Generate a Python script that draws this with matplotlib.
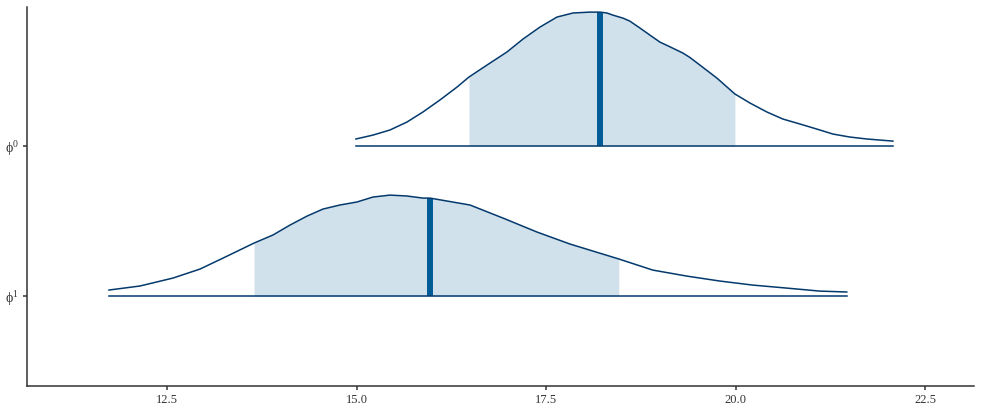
import numpy as np
import matplotlib
matplotlib.use("Agg")
import matplotlib.pyplot as plt

plt.rcParams['font.family'] = ['Liberation Serif', 'DejaVu Serif']
plt.rcParams['mathtext.fontset'] = 'custom'
plt.rcParams['mathtext.rm'] = 'Liberation Serif'
plt.rcParams['mathtext.it'] = 'Liberation Serif:italic'

# ---- data ----
params = ["phi0", "phi1"]
param_labels = [r"$\mathrm{\phi}^0$", r"$\mathrm{\phi}^1$"]
param_pos = [2, 1]

phi0_x = [14.988, 15.212, 15.437, 15.661, 15.872, 16.096, 16.321, 16.479, 16.756,
          16.980, 17.191, 17.415, 17.640, 17.851, 18.075, 18.207, 18.299, 18.377,
          18.510, 18.601, 18.734, 18.865, 18.998, 19.129, 19.301, 19.392, 19.525,
          19.750, 19.987, 20.185, 20.409, 20.620, 20.845, 21.069, 21.280, 21.504,
          21.728, 22.071]
phi0_d = [0.047, 0.073, 0.107, 0.160, 0.227, 0.307, 0.393, 0.460, 0.553,
          0.627, 0.713, 0.793, 0.860, 0.887, 0.893, 0.893, 0.887, 0.873,
          0.853, 0.833, 0.787, 0.740, 0.693, 0.662, 0.620, 0.591, 0.540,
          0.453, 0.347, 0.287, 0.227, 0.180, 0.147, 0.113, 0.080, 0.060,
          0.047, 0.033]
phi0_interval = [16.479, 19.987]
phi0_median = 18.207

phi1_x = [11.731, 12.140, 12.576, 12.932, 13.235, 13.644, 13.894, 14.118, 14.343,
          14.554, 14.778, 15.002, 15.213, 15.437, 15.661, 15.872, 15.965, 16.492,
          16.927, 17.375, 17.810, 18.456, 18.904, 19.353, 19.788, 20.223, 20.671,
          21.106, 21.462]
phi1_d = [0.040, 0.067, 0.120, 0.180, 0.253, 0.353, 0.407, 0.473, 0.533,
          0.580, 0.607, 0.627, 0.660, 0.673, 0.667, 0.653, 0.653, 0.607,
          0.520, 0.427, 0.347, 0.247, 0.173, 0.133, 0.100, 0.073, 0.053,
          0.033, 0.027]
phi1_interval = [13.644, 18.456]
phi1_median = 15.965

x_ticks = [12.5, 15.0, 17.5, 20.0, 22.5]

# ---- styling ----
fill_col = "#d1e1ec"
line_col = "#03396c"
med_col = "#005b96"

fig = plt.figure(figsize=(9.83, 4.13), dpi=100)
ax = fig.add_axes([0.0275, 0.066, 0.9633, 0.9163])

series = [
    (phi0_x, phi0_d, phi0_interval, phi0_median, param_pos[0]),
    (phi1_x, phi1_d, phi1_interval, phi1_median, param_pos[1]),
]
for xs, ds, iv, med, base in series:
    xs = np.array(xs)
    ds = np.array(ds)
    mask = (xs >= iv[0] - 1e-9) & (xs <= iv[1] + 1e-9)
    ax.fill_between(xs[mask], base, base + ds[mask], color=fill_col, lw=0, zorder=1)
    mh = np.interp(med, xs, ds)
    ax.plot([med, med], [base, base + mh], color=med_col, lw=4.3,
            solid_capstyle='butt', zorder=2)
    ax.plot(xs, base + ds, color=line_col, lw=1.1, zorder=3,
            solid_joinstyle='round', antialiased=True)
    ax.plot([xs[0], xs[-1]], [base, base], color=line_col, lw=1.1, zorder=3)

ax.set_xlim(10.65, 23.14)
ax.set_ylim(0.402, 2.925)
ax.set_xticks(x_ticks)
ax.set_xticklabels([f"{t:.1f}" for t in x_ticks])
ax.set_yticks(param_pos)
ax.set_yticklabels(param_labels)

for s in ["top", "right"]:
    ax.spines[s].set_visible(False)
for s in ["left", "bottom"]:
    ax.spines[s].set_color("#333333")
    ax.spines[s].set_linewidth(1.1)
ax.tick_params(axis='both', length=3, width=1.1, color="#333333",
               labelcolor="#333333", labelsize=9, pad=3)
ax.tick_params(axis='y', labelsize=10)

fig.savefig("out.png", dpi=100)
